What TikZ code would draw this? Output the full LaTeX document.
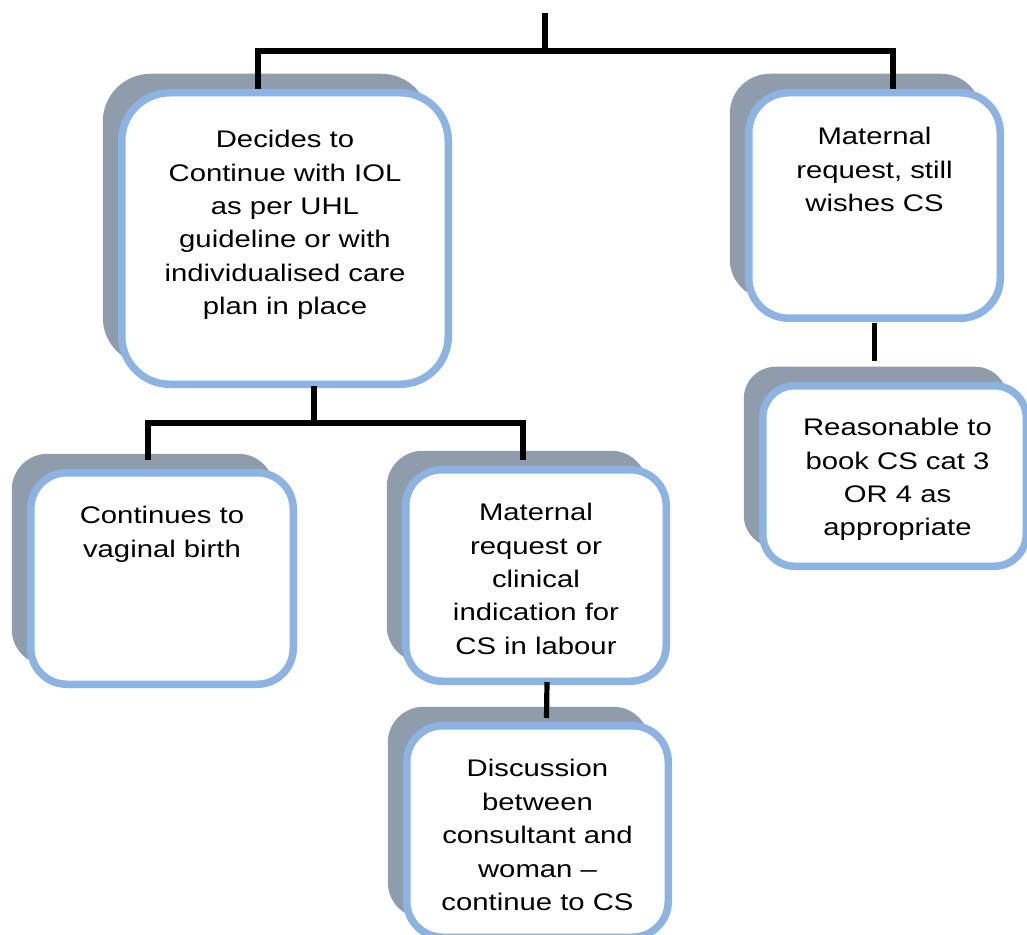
\documentclass[tikz,border=0pt]{standalone}
\usepackage{fontspec}
\setmainfont{Liberation Sans}[FakeStretch=1.22]
\usepackage{xcolor}
\usepackage{tikz}
\usetikzlibrary{positioning, calc, shadows}
\definecolor{kborder}{HTML}{8DB3E2}
\definecolor{kshadow}{HTML}{8F9CAC}

\tikzset{
  card/.style={draw=kborder, line width=3.75pt, fill=white,
    drop shadow={shadow xshift=-9.5pt, shadow yshift=9.5pt, fill=kshadow, opacity=1}},
  cardtext/.style={anchor=north, align=center, inner sep=0pt,
    font=\fontsize{12}{16.7}\selectfont},
  link/.style={draw=black, line width=2.6pt}
}

\begin{document}
\begin{tikzpicture}[x=0.5pt, y=-0.5pt]
\useasboundingbox (0,0) rectangle (1027,935);
% boxes
\node[card, rounded corners=24pt, minimum width=163.25pt, minimum height=145.75pt] (decide) at (285,238.5) {};
\node[cardtext] (decide-txt) at ($(decide.north)+(0,41)$)
  {Decides to\\Continue with IOL\\as per UHL\\guideline or with\\individualised care\\plan in place};
\node[card, rounded corners=20pt, minimum width=125.75pt, minimum height=112.75pt] (wish) at (874.5,205.5) {};
\node[cardtext] (wish-txt) at ($(wish.north)+(0,38)$)
  {Maternal\\request, still\\wishes CS};
\node[card, rounded corners=18pt, minimum width=131.25pt, minimum height=105.75pt] (vaginal) at (162,578.5) {};
\node[cardtext] (vaginal-txt) at ($(vaginal.north)+(0,37)$)
  {Continues to\\vaginal birth};
\node[card, rounded corners=18pt, minimum width=130.25pt, minimum height=105.75pt] (labour) at (536,575.5) {};
\node[cardtext] (labour-txt) at ($(labour.north)+(0,37)$)
  {Maternal\\request or\\clinical\\indication for\\CS in labour};
\node[card, rounded corners=18pt, minimum width=130.75pt, minimum height=105.75pt] (discuss) at (537.5,831.5) {};
\node[cardtext] (discuss-txt) at ($(discuss.north)+(0,37)$)
  {Discussion\\between\\consultant and\\woman –\\continue to CS};
\node[card, rounded corners=16pt, minimum width=131.75pt, minimum height=90.25pt] (book) at (894.5,476) {};
\node[cardtext] (book-txt) at ($(book.north)+(3,36)$)
  {Reasonable to\\book CS cat 3\\OR 4 as\\appropriate};
% connectors
\coordinate (root) at (545,13);
\coordinate (bus1) at (545,51);
\draw[link] (root) -- (bus1);
\draw[link] ($(decide.north)+(-27,0)$) |- (bus1) -| ($(wish.north)+(18.5,0)$);
\draw[link] ($(decide.south)+(29,-2)$) -- ++(0,37) coordinate (bus2);
\draw[link] ($(vaginal.north)+(-14,-9)$) |- (bus2) -| ($(labour.north)+(-13,-6)$);
\draw[link] ($(labour.south)+(11,-3)$) -- ($(discuss.north)+(9,-4)$);
\draw[link] ($(wish.south)+(0,1)$) -- ($(book.north -| wish.south)+(0,-21)$);
\end{tikzpicture}
\end{document}
